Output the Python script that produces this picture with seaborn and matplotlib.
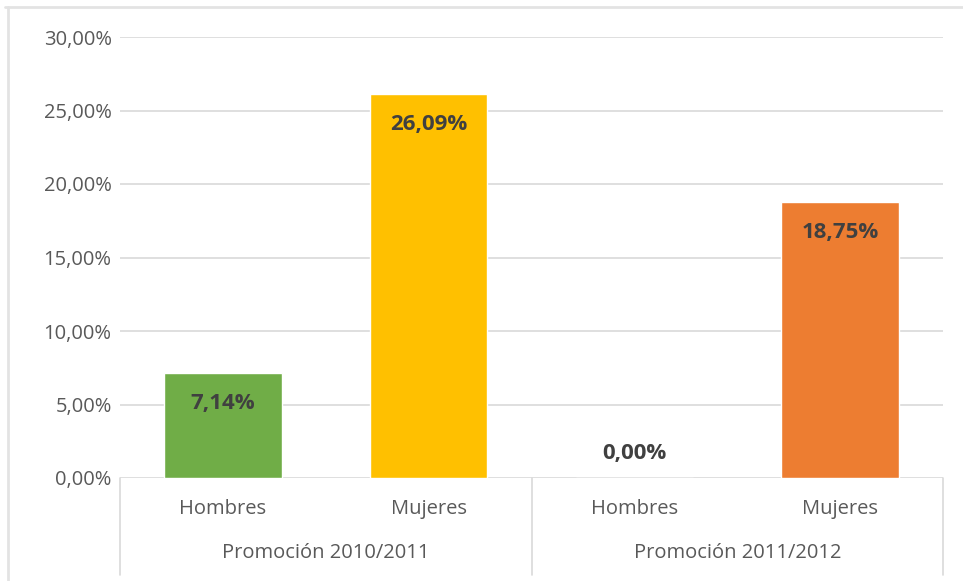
import matplotlib
matplotlib.use("Agg")
import matplotlib.pyplot as plt
import matplotlib.transforms as mtransforms
import seaborn as sns
import pandas as pd

# Data
promociones = ["Promoción 2010/2011", "Promoción 2010/2011", "Promoción 2011/2012", "Promoción 2011/2012"]
sexos = ["Hombres", "Mujeres", "Hombres", "Mujeres"]
valores = [7.14, 26.09, 0.00, 18.75]
colores = ["#70AD47", "#FFC000", "#7F7F7F", "#ED7D31"]
y_ticks = [0, 5, 10, 15, 20, 25, 30]

keys = [f"{p}|{s}" for p, s in zip(promociones, sexos)]
df = pd.DataFrame({"key": keys, "valor": valores, "sexo": sexos, "prom": promociones})

sns.set_style("white")
plt.rcParams["font.family"] = ["Open Sans", "DejaVu Sans"]

W, H = 963, 581
fig = plt.figure(figsize=(W / 100, H / 100), dpi=100)
L, R, T, B = 120, 943, 37, 478
ax = fig.add_axes([L / W, 1 - B / H, (R - L) / W, (B - T) / H])

sns.barplot(data=df, x="key", y="valor", hue="key", order=keys, hue_order=keys,
            palette=dict(zip(keys, colores)), width=0.57, legend=False, ax=ax,
            saturation=1, zorder=3)

FS = 14.5
ax.set_ylim(0, 30)
ax.set_xlim(-0.5, len(keys) - 0.5)
ax.set_yticks(y_ticks)
ax.set_yticklabels([f"{v:.2f}%".replace(".", ",") for v in y_ticks],
                   fontsize=FS, color="#595959")
ax.tick_params(axis="y", length=0, pad=6)
ax.set_xticks([])
ax.set_xlabel("")
ax.set_ylabel("")
for s in ax.spines.values():
    s.set_visible(False)
for v in y_ticks:
    ax.axhline(v, color="#D9D9D9", lw=1.2, zorder=1)

# value labels
for i, v in enumerate(valores):
    txt = f"{v:.2f}%".replace(".", ",")
    off = -30 if v > 0 else 25
    ax.annotate(txt, (i, v), xytext=(0, off * 0.72), textcoords="offset points",
                ha="center", va="center", fontsize=16, fontweight="bold",
                color="#404040", zorder=4)

# category axis
trans = mtransforms.blended_transform_factory(ax.transData, ax.transAxes)
ah = B - T
for xb in [-0.5, 1.5, 3.5]:
    ax.plot([xb, xb], [0, -97 / ah], transform=trans, color="#D9D9D9", lw=1.2,
            clip_on=False)
for i, s in enumerate(sexos):
    ax.text(i, -31 / ah, s, transform=trans, ha="center", va="center",
            fontsize=FS, color="#595959")
groups = []
for i, p in enumerate(promociones):
    if p not in [g[0] for g in groups]:
        groups.append([p, [i]])
    else:
        [g for g in groups if g[0] == p][0][1].append(i)
for p, idx in groups:
    ax.text(sum(idx) / len(idx), -75 / ah, p, transform=trans, ha="center",
            va="center", fontsize=FS, color="#595959")

# outer frame
fig.add_artist(plt.Line2D([5 / W, 1], [1 - 7 / H, 1 - 7 / H], color="#E3E3E3", lw=2))
fig.add_artist(plt.Line2D([8 / W, 8 / W], [0, 1 - 7 / H], color="#E3E3E3", lw=2))

fig.savefig("out.png", dpi=100)
